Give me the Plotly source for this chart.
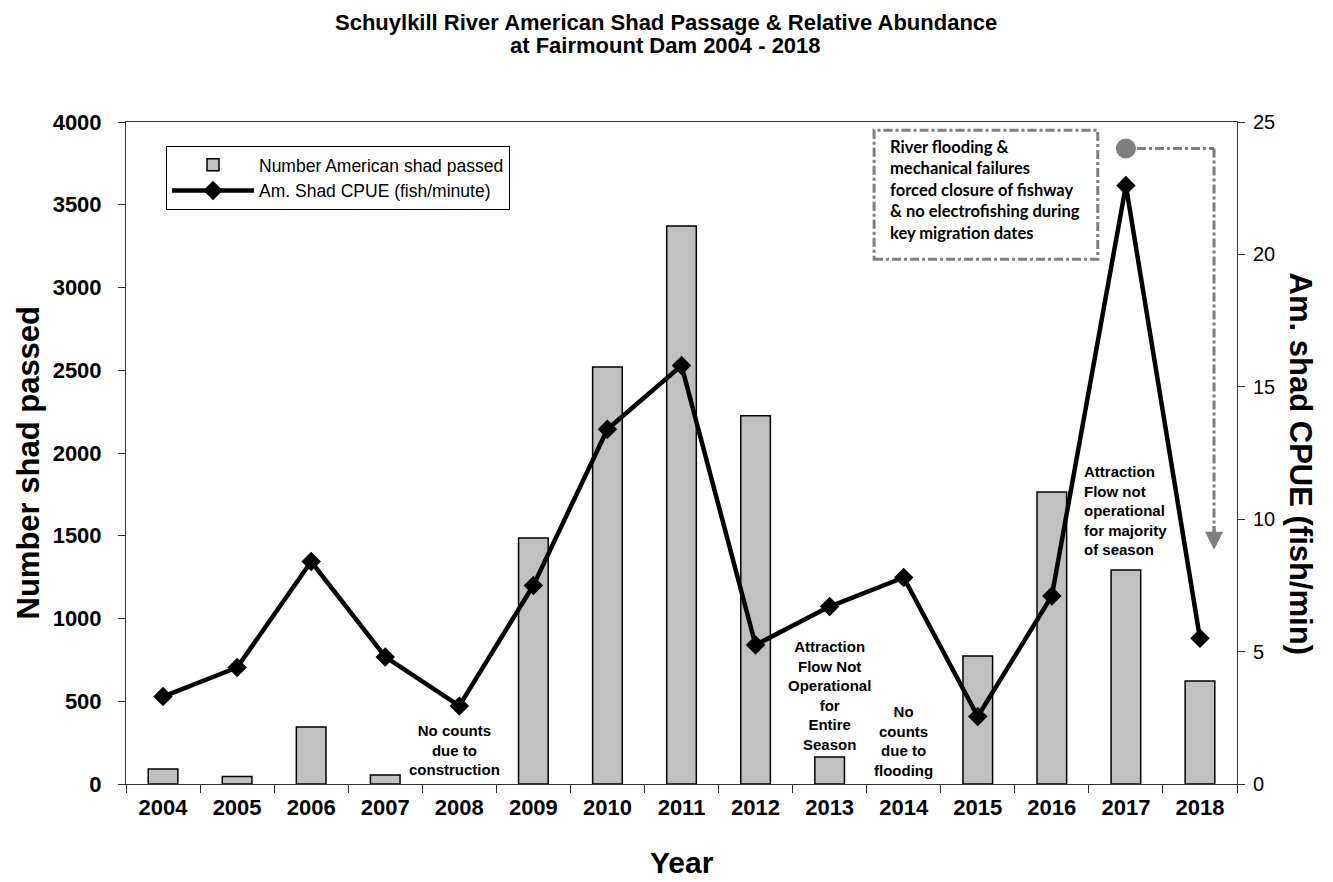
import plotly.graph_objects as go

# Data (None = no counts that year)
years = ["2004", "2005", "2006", "2007", "2008", "2009", "2010", "2011",
         "2012", "2013", "2014", "2015", "2016", "2017", "2018"]
shad_passed = [90, 45, 345, 55, None, 1486, 2520, 3372, 2225, 163, None, 773, 1764, 1293, 622]
cpue = [3.3, 4.4, 8.4, 4.8, 2.95, 7.5, 13.4, 15.8, 5.25, 6.7, 7.8, 2.55, 7.1, 22.6, 5.5]
# expected 2017 CPUE marker (grey dot)
expected_years = ["2017"]
expected_cpue = [24]

left_ticks = [0, 500, 1000, 1500, 2000, 2500, 3000, 3500, 4000]
right_ticks = [0, 5, 10, 15, 20, 25]

FONT = "Liberation Sans, Arial, sans-serif"
GREY = "#7f7f7f"


def idx(year):
    return years.index(year)


fig = go.Figure()

fig.add_trace(
    go.Bar(
        x=years,
        y=shad_passed,
        name="Number American shad passed",
        marker=dict(color="#c0c0c0", line=dict(color="black", width=1.5)),
        width=0.4,
    )
)

fig.add_trace(
    go.Scatter(
        x=years,
        y=cpue,
        yaxis="y2",
        mode="lines+markers",
        name="Am. Shad CPUE (fish/minute)",
        line=dict(color="black", width=4.5),
        marker=dict(symbol="diamond", size=15, color="black"),
    )
)

fig.add_trace(
    go.Scatter(
        x=expected_years,
        y=expected_cpue,
        yaxis="y2",
        mode="markers",
        marker=dict(size=20, color=GREY),
        showlegend=False,
    )
)

# dash-dot note box and arrow
fig.add_shape(type="rect", xref="x", yref="y", x0=9.6, x1=12.62, y0=3170, y1=3950,
              line=dict(color=GREY, width=3, dash="dashdot"))
fig.add_shape(type="line", xref="x", yref="y2", x0=13.15, x1=14.19, y0=24, y1=24,
              line=dict(color=GREY, width=3, dash="dashdot"))
fig.add_shape(type="line", xref="x", yref="y2", x0=14.19, x1=14.19, y0=24, y1=9.4,
              line=dict(color=GREY, width=3, dash="dashdot"))

note_font = dict(family=FONT, size=15, color="black", weight="bold")
notes = [
    dict(x=idx("2008"), y=0, text="No counts<br>due to<br>construction", yshift=4, xshift=-5),
    dict(x=idx("2013"), y=163, text="Attraction<br>Flow Not<br>Operational<br>for<br>Entire<br>Season", yshift=2),
    dict(x=idx("2014"), y=0, text="No<br>counts<br>due to<br>flooding", yshift=3),
]
annotations = []
for n in notes:
    annotations.append(dict(
        x=n["x"], y=n["y"], xref="x", yref="y", text=n["text"], showarrow=False,
        xanchor="center", yanchor="bottom", yshift=n["yshift"], xshift=n.get("xshift", 0),
        font=note_font,
    ))

title_font = dict(family=FONT, size=22, color="black", weight="bold")

annotations += [
    dict(x=idx("2017"), y=1293, xref="x", yref="y", xanchor="center", yanchor="bottom", yshift=10,
         text="Attraction<br>Flow not<br>operational<br>for majority<br>of season",
         align="left", showarrow=False, font=note_font),
    dict(x=9.6, y=3950, xref="x", yref="y", xanchor="left", yanchor="top",
         xshift=14, yshift=-5, align="left", showarrow=False,
         text="River flooding &<br>mechanical failures<br>forced closure of fishway"
              "<br>& no electrofishing during<br>key migration dates",
         font=dict(family="Lato, sans-serif", size=16.5, color="black", weight="bold")),
    dict(x=14.19, y=8.85, xref="x", yref="y2", ax=14.19, ay=9.8, axref="x", ayref="y2",
         showarrow=True, arrowhead=2, arrowsize=1.2, arrowwidth=3, arrowcolor=GREY,
         text=""),
    # chart title (two lines)
    dict(x=0.486, y=1.151, xref="paper", yref="paper", xanchor="center", yanchor="middle",
         text="Schuylkill River American Shad Passage & Relative Abundance",
         showarrow=False, font=title_font),
    dict(x=0.486, y=1.1163, xref="paper", yref="paper", xanchor="center", yanchor="middle",
         text="at Fairmount Dam 2004 - 2018",
         showarrow=False, font=title_font),
    # axis titles
    dict(x=-0.088, y=0.486, xref="paper", yref="paper", text="Number shad passed",
         textangle=-90, showarrow=False, xanchor="center", yanchor="middle",
         font=dict(family=FONT, size=31, color="black", weight="bold")),
    dict(x=1.0567, y=0.484, xref="paper", yref="paper", text="Am. shad CPUE (fish/min)",
         textangle=90, showarrow=False, xanchor="center", yanchor="middle",
         font=dict(family=FONT, size=31, color="black", weight="bold")),
    dict(x=0.5, y=-0.119, xref="paper", yref="paper", text="Year", showarrow=False,
         xanchor="center", yanchor="middle",
         font=dict(family=FONT, size=30, color="black", weight="bold")),
]

fig.update_layout(
    width=1325,
    height=874,
    margin=dict(l=118, r=96, t=114, b=98),
    plot_bgcolor="white",
    paper_bgcolor="white",
    showlegend=True,
    legend=dict(
        x=0.036, y=0.964, xanchor="left", yanchor="top",
        bordercolor="black", borderwidth=1, bgcolor="white",
        font=dict(family=FONT, size=17.5, color="black"),
        itemwidth=82,
    ),
    annotations=annotations,
    xaxis=dict(
        type="category",
        range=[-0.5, 14.5],
        showline=True, linecolor="#333333", linewidth=1, mirror=True,
        ticks="outside", tickson="boundaries", ticklen=8, tickcolor="#333333",
        ticklabelstandoff=4,
        showgrid=False,
        tickfont=dict(family=FONT, size=22, color="black", weight="bold"),
    ),
    yaxis=dict(
        range=[0, 4000],
        tickvals=left_ticks,
        showline=True, linecolor="#333333", linewidth=1, mirror=True,
        ticks="outside", ticklen=7, tickcolor="#333333",
        ticklabelstandoff=12,
        showgrid=False, zeroline=False,
        tickfont=dict(family=FONT, size=22, color="black", weight="bold"),
    ),
    yaxis2=dict(
        range=[0, 25],
        tickvals=right_ticks,
        overlaying="y", side="right",
        showline=True, linecolor="#333333", linewidth=1,
        ticks="outside", ticklen=7, tickcolor="#333333",
        ticklabelstandoff=4,
        showgrid=False, zeroline=False,
        tickfont=dict(family=FONT, size=20, color="black"),
    ),
)

fig.write_html("out.html")
